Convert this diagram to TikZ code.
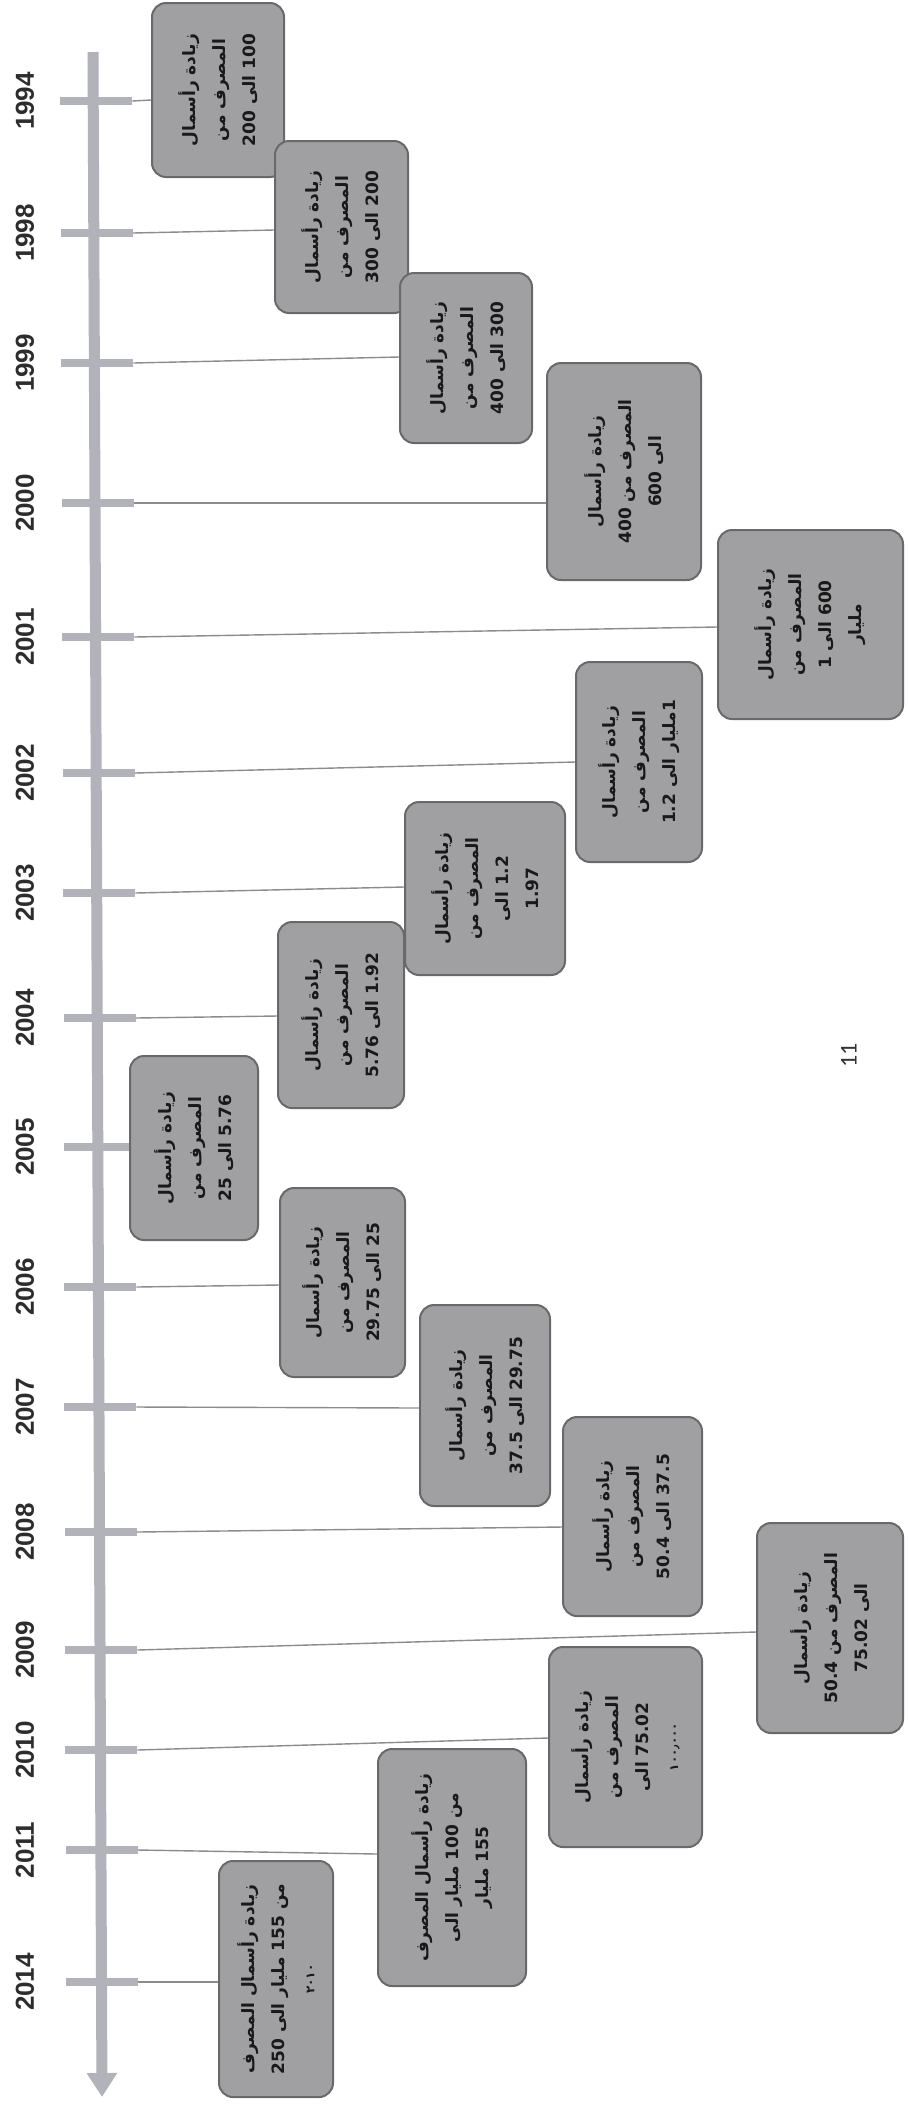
\documentclass[tikz,border=0pt]{standalone}
\usepackage{fontspec}
\usetikzlibrary{arrows.meta}
\TeXXeTstate=1
\newfontfamily\arabicfont[Script=Arabic,BoldFont={DejaVu Sans Bold}]{DejaVu Sans}
\newfontfamily\yearfont{Liberation Sans}
\newfontfamily\pagefont{Carlito}
\definecolor{axisgray}{RGB}{178,178,186}
\definecolor{boxfill}{RGB}{160,160,162}
\definecolor{boxdraw}{RGB}{105,105,108}
\definecolor{linkgray}{RGB}{140,140,140}
\definecolor{yeargray}{RGB}{45,45,45}
\newcommand\rl[1]{\beginR#1\endR}
\newcommand\smallrl[1]{{\fontsize{6}{8}\selectfont\beginR#1\endR}}
\tikzset{
  stepbox/.style={rotate=90, draw=boxdraw, fill=boxfill, line width=1pt,
    rounded corners=7pt, inner sep=0pt, align=center,
    font=\arabicfont\bfseries\fontsize{8.5}{15}\selectfont, text=black!90},
  tickbar/.style={fill=axisgray, minimum width=36pt, minimum height=4pt, inner sep=0pt},
  yearlbl/.style={rotate=90, font=\yearfont\bfseries\fontsize{13}{13}\selectfont, text=yeargray},
  link/.style={draw=linkgray, line width=0.7pt},
  axisline/.style={draw=axisgray, line width=5.5pt, -{Triangle[width=14.5pt,length=12pt]}}
}
\newcommand\tlbox[5]{\node[stepbox, minimum width=#4pt, minimum height=#5pt] (#1) at (#2) {#3};}
\newcommand\tlink[3]{\draw[link] (#1.east) -- (#2.north |- 0,#3);}
\begin{document}
\begin{tikzpicture}[x=0.5pt,y=-0.5pt]
\fill[white] (0,0) rectangle (908,2106);
\useasboundingbox (0,0) rectangle (908,2106);
% axis
\coordinate (axtop) at (93,52);
\coordinate (axend) at (102,2097);
\draw[axisline] (axtop) -- (axend);
% ticks
\node[tickbar] (t1994) at (96,101) {};
\node[tickbar] (t1998) at (96.5,233) {};
\node[tickbar] (t1999) at (97,363) {};
\node[tickbar] (t2000) at (97.5,503) {};
\node[tickbar] (t2001) at (98,637) {};
\node[tickbar] (t2002) at (98.5,773) {};
\node[tickbar] (t2003) at (99,893) {};
\node[tickbar] (t2004) at (99.5,1018) {};
\node[tickbar] (t2005) at (99.5,1147) {};
\node[tickbar] (t2006) at (100,1287) {};
\node[tickbar] (t2007) at (100,1407) {};
\node[tickbar] (t2008) at (100.5,1532) {};
\node[tickbar] (t2009) at (101,1650) {};
\node[tickbar] (t2010) at (101,1750) {};
\node[tickbar] (t2011) at (101.5,1850) {};
\node[tickbar] (t2014) at (101.5,1982) {};
% years
\node[yearlbl] (y1994) at (25,101) {1994};
\node[yearlbl] (y1998) at (25,233) {1998};
\node[yearlbl] (y1999) at (25,363) {1999};
\node[yearlbl] (y2000) at (25,503) {2000};
\node[yearlbl] (y2001) at (25,637) {2001};
\node[yearlbl] (y2002) at (25,773) {2002};
\node[yearlbl] (y2003) at (25,893) {2003};
\node[yearlbl] (y2004) at (25,1018) {2004};
\node[yearlbl] (y2005) at (25,1147) {2005};
\node[yearlbl] (y2006) at (25,1287) {2006};
\node[yearlbl] (y2007) at (25,1407) {2007};
\node[yearlbl] (y2008) at (25,1532) {2008};
\node[yearlbl] (y2009) at (25,1650) {2009};
\node[yearlbl] (y2010) at (25,1750) {2010};
\node[yearlbl] (y2011) at (25,1850) {2011};
\node[yearlbl] (y2014) at (25,1982) {2014};
% connectors (drawn under boxes)
\begin{scope}
\path (0,0);
\end{scope}
% boxes
\tlbox{b1994}{218,90}{\rl{زيادة رأسمال}\\\rl{المصرف من}\\\rl{100 الى 200}}{87}{66}
\tlbox{b1998}{341.5,227}{\rl{زيادة رأسمال}\\\rl{المصرف من}\\\rl{200 الى 300}}{86}{66.5}
\tlbox{b1999}{466,358}{\rl{زيادة رأسمال}\\\rl{المصرف من}\\\rl{300 الى 400}}{85}{66}
\tlbox{b2000}{624,471.5}{\rl{زيادة رأسمال}\\\rl{المصرف من 400}\\\rl{الى 600}}{108.5}{77}
\tlbox{b2001}{810.5,624.5}{\rl{زيادة رأسمال}\\\rl{المصرف من}\\\rl{600 الى 1}\\\rl{مليار}}{94.5}{92.5}
\tlbox{b2002}{639,762}{\rl{زيادة رأسمال}\\\rl{المصرف من}\\\rl{1مليار الى 1.2}}{100}{63}
\tlbox{b2003}{485,888.5}{\rl{زيادة رأسمال}\\\rl{المصرف من}\\\rl{1.2 الى}\\\rl{1.97}}{86.5}{80}
\tlbox{b2004}{341,1015}{\rl{زيادة رأسمال}\\\rl{المصرف من}\\\rl{1.92 الى 5.76}}{93}{63}
\tlbox{b2005}{194,1148}{\rl{زيادة رأسمال}\\\rl{المصرف من}\\\rl{5.76 الى 25}}{92}{64}
\tlbox{b2006}{342.5,1282.5}{\rl{زيادة رأسمال}\\\rl{المصرف من}\\\rl{25 الى 29.75}}{94.5}{62.5}
\tlbox{b2007}{485,1405.5}{\rl{زيادة رأسمال}\\\rl{المصرف من}\\\rl{29.75 الى 37.5}}{100.5}{65}
\tlbox{b2008}{632.5,1516.5}{\rl{زيادة رأسمال}\\\rl{المصرف من}\\\rl{37.5 الى 50.4}}{99.5}{69.5}
\tlbox{b2009}{830,1628}{\rl{زيادة رأسمال}\\\rl{المصرف من 50.4}\\\rl{الى 75.02}}{105}{73}
\tlbox{b2010}{625.5,1747}{\rl{زيادة رأسمال}\\\rl{المصرف من}\\\rl{75.02 الى}\\\smallrl{١٠٠٫٠٠٠}}{100}{76.5}
\tlbox{b2011}{452,1867.5}{\rl{زيادة رأسمال المصرف}\\\rl{من 100 مليار الى}\\\rl{155 مليار}}{118.5}{74}
\tlbox{b2014}{276,1979}{\rl{زيادة رأسمال المصرف}\\\rl{من 155 مليار الى 250}\\\smallrl{٢٠١٠}}{118}{57}
% connectors
\tlink{t1994}{b1994}{100}
\tlink{t1998}{b1998}{230}
\tlink{t1999}{b1999}{357}
\tlink{t2000}{b2000}{503}
\tlink{t2001}{b2001}{627}
\tlink{t2002}{b2002}{762}
\tlink{t2003}{b2003}{887}
\tlink{t2004}{b2004}{1016}
\tlink{t2006}{b2006}{1285}
\tlink{t2007}{b2007}{1408}
\tlink{t2008}{b2008}{1527}
\tlink{t2009}{b2009}{1632}
\tlink{t2010}{b2010}{1738}
\tlink{t2011}{b2011}{1854}
\tlink{t2014}{b2014}{1982}
% page number
\node[rotate=90, font=\pagefont\fontsize{12}{12}\selectfont, text=black!80] (pagenum) at (849,1055) {11};
\end{tikzpicture}
\end{document}
